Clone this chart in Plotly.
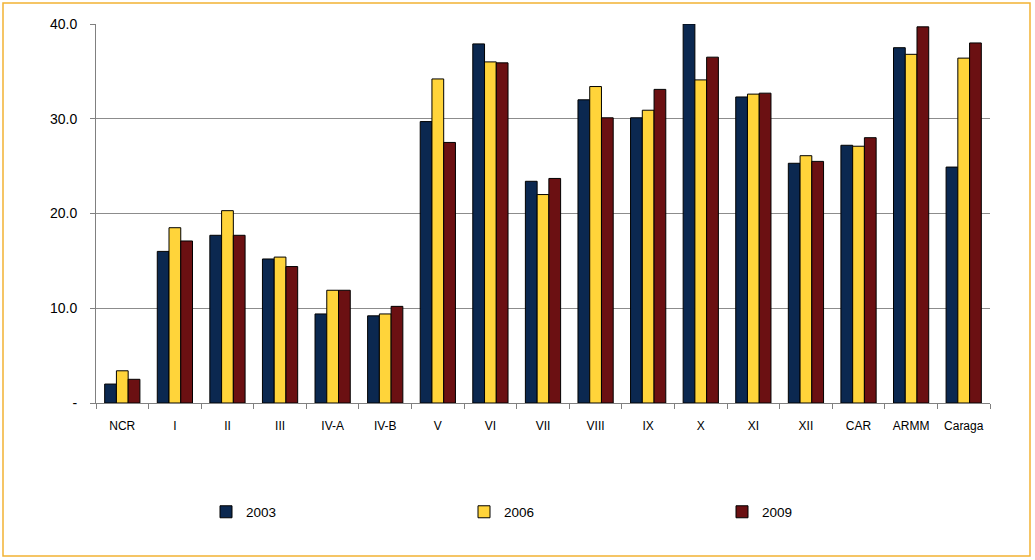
import plotly.graph_objects as go

regions = ["NCR", "I", "II", "III", "IV-A", "IV-B", "V", "VI", "VII", "VIII",
           "IX", "X", "XI", "XII", "CAR", "ARMM", "Caraga"]
y2003 = [2.0, 16.0, 17.7, 15.2, 9.4, 9.2, 29.7, 37.9, 23.4, 32.0, 30.1, 40.0, 32.3, 25.3, 27.2, 37.5, 24.9]
y2006 = [3.4, 18.5, 20.3, 15.4, 11.9, 9.4, 34.2, 36.0, 22.0, 33.4, 30.9, 34.1, 32.6, 26.1, 27.1, 36.8, 36.4]
y2009 = [2.5, 17.1, 17.7, 14.4, 11.9, 10.2, 27.5, 35.9, 23.7, 30.1, 33.1, 36.5, 32.7, 25.5, 28.0, 39.7, 38.0]
years = ["2003", "2006", "2009"]
colors = ["#0B2850", "#FFD43A", "#6B1012"]
ytick_vals = [0, 10, 20, 30, 40]
ytick_text = ["-", "10.0", "20.0", "30.0", "40.0"]

fig = go.Figure()
for name, vals, col in zip(years, [y2003, y2006, y2009], colors):
    fig.add_trace(go.Bar(x=regions, y=vals, name=name, marker_color=col,
                         marker_line_color="#000000", marker_line_width=1))

W, H = 1035, 560
ml, mr, mt, mb = 96, 45, 24, 157
pw, ph = W - ml - mr, H - mt - mb

def px(x):
    return (x - ml) / pw

def py(y):
    return (H - mb - y) / ph

fig.update_layout(
    width=W, height=H,
    margin=dict(l=ml, r=mr, t=mt, b=mb),
    paper_bgcolor="white", plot_bgcolor="white",
    barmode="group", bargap=0.33, bargroupgap=0,
    font=dict(family="Liberation Sans, Arial, sans-serif", color="#000000"),
    showlegend=True,
    legend=dict(orientation="h", x=px(206), y=py(512), yanchor="middle", xanchor="left",
                entrywidth=213, entrywidthmode="pixels", itemwidth=30,
                font=dict(size=13.5, family="Liberation Sans, Arial, sans-serif")),
    shapes=[dict(type="rect", xref="paper", yref="paper",
                 x0=px(3), x1=px(1030), y0=py(556), y1=py(3),
                 line=dict(color="#F2B233", width=1.5), fillcolor="rgba(0,0,0,0)",
                 layer="below")],
)
fig.update_xaxes(type="category", showline=True, linecolor="#808080", linewidth=1,
                 ticks="outside", tickson="boundaries", ticklen=5, tickcolor="#808080",
                 tickfont=dict(size=12), ticklabelstandoff=12, showgrid=False)
fig.update_yaxes(range=[0, 40], tickvals=ytick_vals, ticktext=ytick_text,
                 showline=True, linecolor="#808080", linewidth=1,
                 ticks="outside", ticklen=5, tickcolor="#808080",
                 showgrid=True, gridcolor="#8C8C8C", gridwidth=1,
                 tickfont=dict(size=14), ticklabelstandoff=10, zeroline=False)

fig.write_html("out.html", config={"displayModeBar": False},
               post_script="document.body.style.margin='0';")
